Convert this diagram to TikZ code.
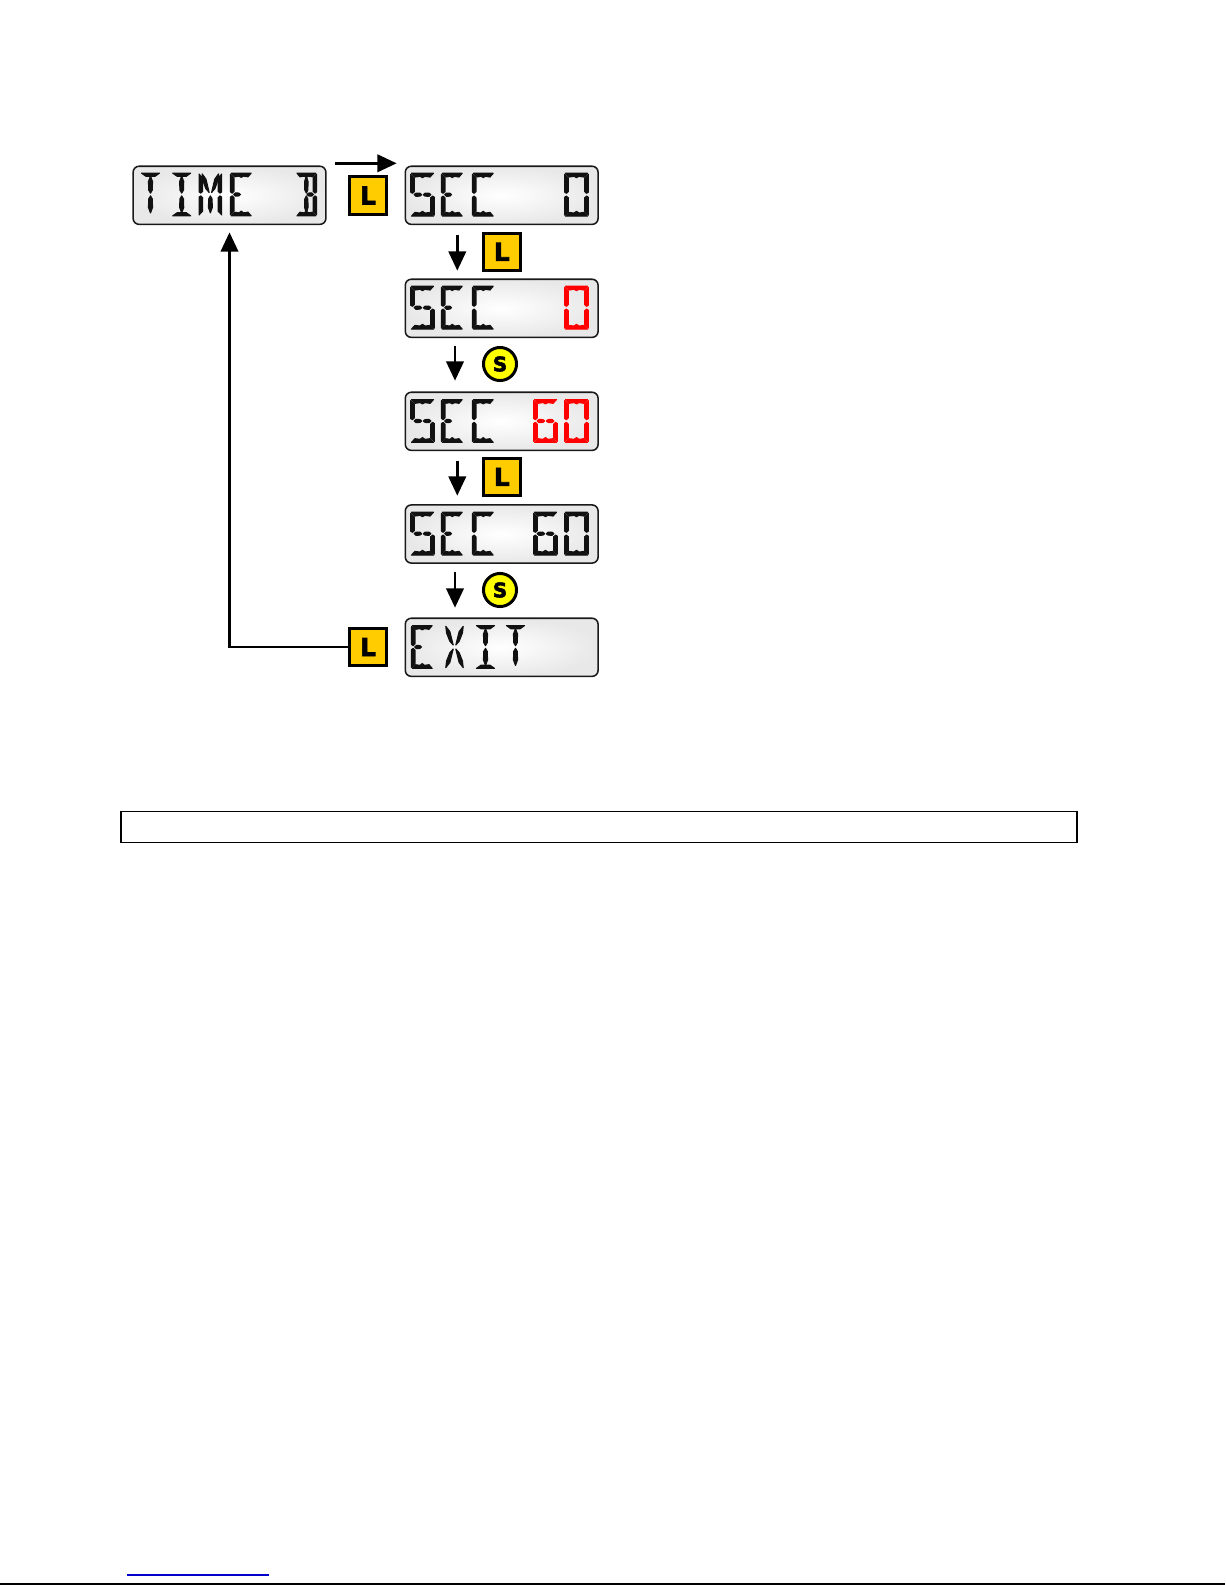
\documentclass[tikz,border=0pt]{standalone}
\usepackage{fontspec}
\setmainfont{Liberation Sans}
\newfontfamily\badgefont[BoldFeatures={FakeBold=2.6}]{DejaVu Sans}
\usetikzlibrary{arrows.meta}
\definecolor{badgeL}{HTML}{FFCC00}
\definecolor{badgeS}{HTML}{FFFF00}
\definecolor{lcdred}{HTML}{FF0000}
\definecolor{lcdink}{HTML}{111111}
\definecolor{linkblue}{HTML}{0000CC}
\tikzset{segpart/.style={fill=#1,draw=#1,line width=.85pt,line join=round}}
% 14-segment glyph parts, in a 25 x 44 px cell
\def\sega#1{\path[segpart=#1] (1.5,.6)--(23.5,.6)--(20,4.3)--(15,3.6)--(12.5,4.8)--(10,3.6)--(5,4.3)--cycle;}
\def\segd#1{\path[segpart=#1] (1.5,43.4)--(23.5,43.4)--(20,39.7)--(15,40.4)--(12.5,38.6)--(10,40.4)--(5,39.7)--cycle;}
\def\segf#1{\path[segpart=#1] (.6,1.6)--(4.4,5.4)--(4.4,18.8)--(2.4,20.6)--(.6,19.4)--cycle;}
\def\sege#1{\path[segpart=#1] (.6,24.6)--(2.4,23.4)--(4.4,25.2)--(4.4,38.6)--(.6,42.4)--cycle;}
\def\segb#1{\path[segpart=#1] (24.4,1.6)--(20.6,5.4)--(20.6,18.8)--(22.6,20.6)--(24.4,19.4)--cycle;}
\def\segc#1{\path[segpart=#1] (24.4,24.6)--(22.6,23.4)--(20.6,25.2)--(20.6,38.6)--(24.4,42.4)--cycle;}
\def\segg#1{\path[segpart=#1] (4.2,22)--(6,20.4)--(10,20.6)--(11.6,22)--(10,23.4)--(6,23.6)--cycle;}
\def\segk#1{\path[segpart=#1] (20.8,22)--(19,20.4)--(15,20.6)--(13.4,22)--(15,23.4)--(19,23.6)--cycle;}
\def\segh#1{\path[segpart=#1] (12.5,3.6)--(14.5,9)--(14.3,17.5)--(12.5,20.6)--(10.7,17.5)--(10.5,9)--cycle;}
\def\segl#1{\path[segpart=#1] (12.5,23.4)--(14.3,26.5)--(14.5,35)--(12.5,40.4)--(10.5,35)--(10.7,26.5)--cycle;}
\def\segt#1{\path[segpart=#1] (3.5,.6)--(21.5,.6)--(17,3.8)--(8,3.8)--cycle;}
\def\segi#1{\path[segpart=#1] (3.5,43.4)--(21.5,43.4)--(17,40.2)--(8,40.2)--cycle;}
\def\segp#1{\path[segpart=#1] (3.8,1.4)--(7.8,6.5)--(11.2,20)--(7.8,16.2)--(4.6,8)--cycle;}
\def\segq#1{\path[segpart=#1] (21.2,1.4)--(17.2,6.5)--(13.8,20)--(17.2,16.2)--(20.4,8)--cycle;}
\def\segr#1{\path[segpart=#1] (3.8,42.6)--(7.8,37.5)--(11.2,24)--(7.8,27.8)--(4.6,36)--cycle;}
\def\segs#1{\path[segpart=#1] (21.2,42.6)--(17.2,37.5)--(13.8,24)--(17.2,27.8)--(20.4,36)--cycle;}
% \lcdglyph{left}{top}{colour}{scope options}{segment letters}
\newcommand{\lcdglyph}[5]{%
  \begin{scope}[shift={(#1,#2)},#4]
    \foreach \part in {#5}{\csname seg\part\endcsname{#3}}
  \end{scope}}
\newcommand{\glyphS}[3]{\lcdglyph{#1}{#2}{#3}{}{a,f,g,k,c,d}}
\newcommand{\glyphE}[3]{\lcdglyph{#1}{#2}{#3}{xscale=.9}{a,f,e,g,d}}
\newcommand{\glyphC}[3]{\lcdglyph{#1}{#2}{#3}{xscale=.9}{a,f,e,d}}
\newcommand{\glyphZ}[3]{\lcdglyph{#1}{#2}{#3}{}{a,b,c,d,e,f}}
\newcommand{\glyphSix}[3]{\lcdglyph{#1}{#2}{#3}{}{a,f,g,k,c,d,e}}
\newcommand{\secword}[1]{\glyphS{410}{#1}{lcdink}\glyphE{441}{#1}{lcdink}\glyphC{472}{#1}{lcdink}}
\tikzset{
  lcdbox/.style={draw=black!90,line width=1.15pt,rounded corners=4.5pt,inner color=white,outer color=black!9,
    minimum width=144.6pt,minimum height=43.6pt,inner sep=0pt},
  badgel/.style={draw=black,fill=badgeL,line width=2.25pt,minimum size=27.8pt,inner sep=0pt,
    font=\badgefont\fontsize{18.5}{18.5}\selectfont\bfseries},
  badges/.style={circle,draw=black,fill=badgeS,line width=2.25pt,minimum size=24.8pt,inner sep=0pt,
    font=\badgefont\fontsize{15}{15}\selectfont\bfseries},
  flowarrow/.style={line width=2.2pt,-{Triangle[length=14.5pt,width=13pt]}},
  hairbox/.style={draw=black,line width=.8pt,minimum width=717pt,minimum height=23.2pt,inner sep=0pt}
}
\begin{document}
\begin{tikzpicture}[x=.75pt,y=-.75pt]
\useasboundingbox (0,0) rectangle (1225,1585);
\fill[white] (0,0) rectangle (1225,1585);
% displays
\node[lcdbox] (time) at (229.5,195.3) {};
\node[lcdbox] (sec1) at (501.7,195.3) {};
\node[lcdbox] (sec2) at (501.7,308.3) {};
\node[lcdbox] (sec3) at (501.7,421.3) {};
\node[lcdbox] (sec4) at (501.7,534) {};
\node[lcdbox] (exit) at (501.7,647.3) {};
% glyphs
\lcdglyph{138}{172.5}{lcdink}{}{t,h,l}
\lcdglyph{169.2}{172.5}{lcdink}{}{t,h,l,i}
\lcdglyph{198.5}{172.5}{lcdink}{xscale=.95}{f,e,b,c,p,q,l}
\glyphE{230}{172.5}{lcdink}
\lcdglyph{295.7}{172.5}{lcdink}{xscale=.85}{a,d,b,c,h,l,k}
\secword{172.7}\glyphZ{564}{172.7}{lcdink}
\secword{285.7}\glyphZ{564}{285.7}{lcdred}
\secword{399}\glyphSix{533}{399}{lcdred}\glyphZ{564}{399}{lcdred}
\secword{511.7}\glyphSix{533}{511.7}{lcdink}\glyphZ{564}{511.7}{lcdink}
\glyphE{411}{625}{lcdink}
\lcdglyph{442}{625}{lcdink}{}{p,q,r,s}
\lcdglyph{473}{625}{lcdink}{}{t,h,l,i}
\lcdglyph{503}{625}{lcdink}{}{t,h,l}
% badges
\node[badgel] (l1) at (368,195.5) {L};
\node[badgel] (l2) at (501.8,251.8) {L};
\node[badges] (s1) at (500,364) {S};
\node[badgel] (l3) at (501.8,476.8) {L};
\node[badges] (s2) at (500,590) {S};
\node[badgel] (l4) at (368,647) {L};
% connectors
\coordinate (topa) at (335,163.3);
\coordinate (topb) at (396.7,163.3);
\draw[flowarrow] (topa) -- (topb);
\coordinate (d1a) at (457.3,235);   \coordinate (d1b) at (457.3,270.7);
\coordinate (d2a) at (455,346);     \coordinate (d2b) at (455,380.7);
\coordinate (d3a) at (457.3,461);   \coordinate (d3b) at (457.3,495.7);
\coordinate (d4a) at (455,572);     \coordinate (d4b) at (455,607.7);
\draw[flowarrow] (d1a) -- (d1b);
\draw[flowarrow] (d2a) -- (d2b);
\draw[flowarrow] (d3a) -- (d3b);
\draw[flowarrow] (d4a) -- (d4b);
\draw[flowarrow,shorten >=5.4pt] (l4.west) -| (time.south);
% lower frame and page rules
\node[hairbox] (frame) at (599,826.8) {};
\coordinate (bluea) at (127,1575); \coordinate (blueb) at (269,1575);
\draw[linkblue,line width=.8pt] (bluea) -- (blueb);
\coordinate (rulea) at (0,1584); \coordinate (ruleb) at (1225,1584);
\draw[black,line width=.8pt] (rulea) -- (ruleb);
\end{tikzpicture}
\end{document}
